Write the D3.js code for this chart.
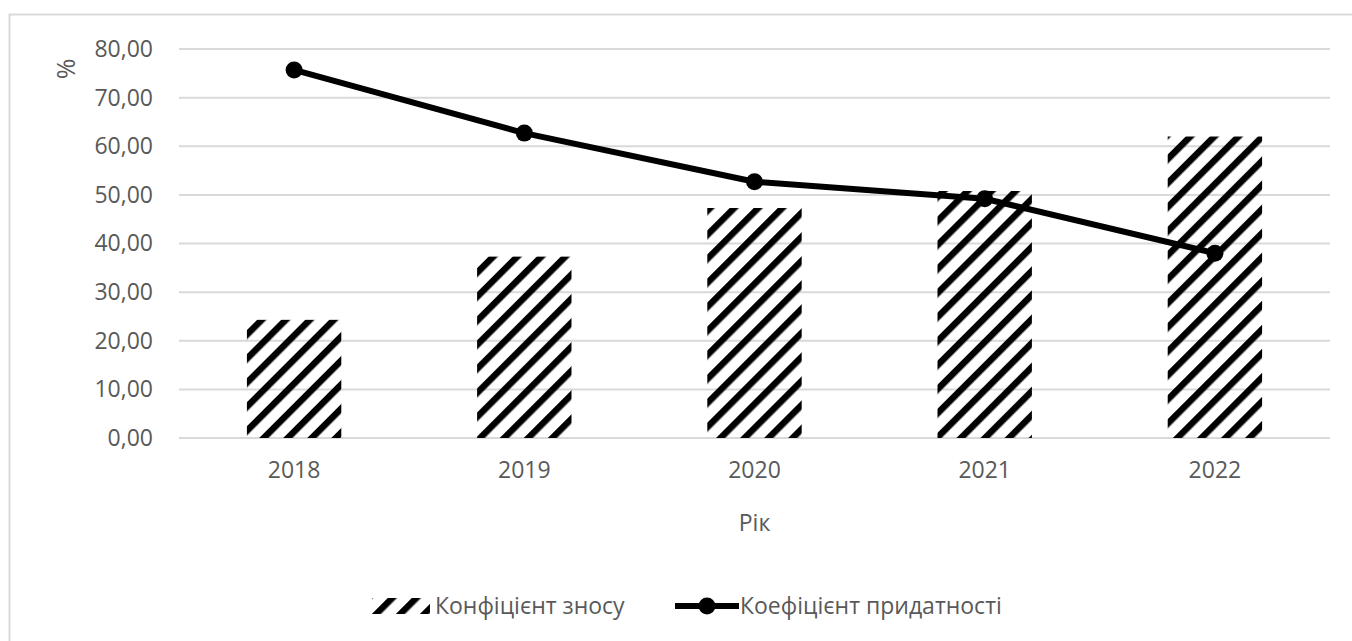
<!DOCTYPE html>
<html>
<head>
<meta charset="utf-8">
<script src="https://cdn.jsdelivr.net/npm/d3@7"></script>
<style>
  html, body { margin: 0; padding: 0; background: #fff; }
  svg { display: block; font-family: "Open Sans", "Noto Sans", sans-serif; }
</style>
</head>
<body>
<svg id="chart" width="1352" height="641"></svg>
<script>
// Years and the two coefficients (%)
const years = ["2018", "2019", "2020", "2021", "2022"];
const wearValues = [24.3, 37.3, 47.3, 50.8, 62.0];        // Конфіцієнт зносу
const fitnessValues = [75.7, 62.7, 52.7, 49.2, 38.0];     // Коефіцієнт придатності
const yTicks = [0, 10, 20, 30, 40, 50, 60, 70, 80];
const seriesNames = ["Конфіцієнт зносу", "Коефіцієнт придатності"];

const svg = d3.select("#chart");
const textColor = "#595959";
const gridColor = "#d9d9d9";

// chart area frame
svg.append("rect")
  .attr("x", 9.5).attr("y", 14.5)
  .attr("width", 1400).attr("height", 700)
  .attr("fill", "none").attr("stroke", gridColor).attr("stroke-width", 2);

// diagonal hatch
const defs = svg.append("defs");
const pat = defs.append("pattern")
  .attr("id", "hatch")
  .attr("patternUnits", "userSpaceOnUse")
  .attr("width", 17).attr("height", 17)
  .attr("patternTransform", "rotate(45)");
pat.append("rect").attr("x", 0).attr("y", 0).attr("width", 6.5).attr("height", 17).attr("fill", "#000");

const plot = { left: 179, right: 1330, top: 49, bottom: 438 };

const x = d3.scaleBand().domain(years).range([plot.left, plot.right]).paddingInner(0.59).paddingOuter(0.295);
const y = d3.scaleLinear().domain([0, 80]).range([plot.bottom, plot.top]);

// gridlines
svg.append("g").selectAll("line").data(yTicks).join("line")
  .attr("x1", plot.left).attr("x2", plot.right)
  .attr("y1", d => y(d)).attr("y2", d => y(d))
  .attr("stroke", gridColor).attr("stroke-width", 2);

// y axis labels
const yAxis = svg.append("g")
  .attr("transform", `translate(${plot.left - 26},0)`)
  .call(d3.axisLeft(y).tickValues(yTicks).tickSize(0).tickPadding(0)
    .tickFormat(d => d3.format(".2f")(d).replace(".", ",")));
yAxis.select(".domain").remove();
yAxis.selectAll("text").attr("fill", textColor).attr("font-size", 23).attr("font-family", "Open Sans");

// x axis labels
const xAxis = svg.append("g")
  .attr("transform", `translate(0,${plot.bottom})`)
  .call(d3.axisBottom(x).tickSize(0).tickPadding(24));
xAxis.select(".domain").remove();
xAxis.selectAll("text").attr("fill", textColor).attr("font-size", 23).attr("font-family", "Open Sans");

// bars
svg.append("g").selectAll("rect").data(wearValues).join("rect")
  .attr("x", (d, i) => x(years[i]))
  .attr("y", d => y(d))
  .attr("width", x.bandwidth())
  .attr("height", d => y(0) - y(d))
  .attr("fill", "url(#hatch)");

// line + markers
const line = d3.line()
  .x((d, i) => x(years[i]) + x.bandwidth() / 2)
  .y(d => y(d));
svg.append("path").datum(fitnessValues)
  .attr("d", line)
  .attr("fill", "none").attr("stroke", "#000").attr("stroke-width", 6)
  .attr("stroke-linejoin", "round");
svg.append("g").selectAll("circle").data(fitnessValues).join("circle")
  .attr("cx", (d, i) => x(years[i]) + x.bandwidth() / 2)
  .attr("cy", d => y(d))
  .attr("r", 8.5).attr("fill", "#000");

// axis titles
svg.append("text")
  .attr("x", (plot.left + plot.right) / 2).attr("y", 531)
  .attr("text-anchor", "middle").attr("fill", textColor).attr("font-size", 23)
  .text("Рік");
svg.append("text")
  .attr("transform", "translate(75,69) rotate(-90)")
  .attr("text-anchor", "middle").attr("fill", textColor).attr("font-size", 25)
  .text("%");

// legend
const lg = svg.append("g");
lg.append("rect")
  .attr("x", 372).attr("y", 598).attr("width", 58).attr("height", 16)
  .attr("fill", "url(#hatch)");
lg.append("text")
  .attr("x", 435).attr("y", 614)
  .attr("fill", textColor).attr("font-size", 23)
  .text(seriesNames[0]);
lg.append("line")
  .attr("x1", 675).attr("x2", 739).attr("y1", 606).attr("y2", 606)
  .attr("stroke", "#000").attr("stroke-width", 6);
lg.append("circle").attr("cx", 707).attr("cy", 606).attr("r", 8.5).attr("fill", "#000");
lg.append("text")
  .attr("x", 740).attr("y", 614)
  .attr("fill", textColor).attr("font-size", 23)
  .text(seriesNames[1]);
</script>
</body>
</html>
